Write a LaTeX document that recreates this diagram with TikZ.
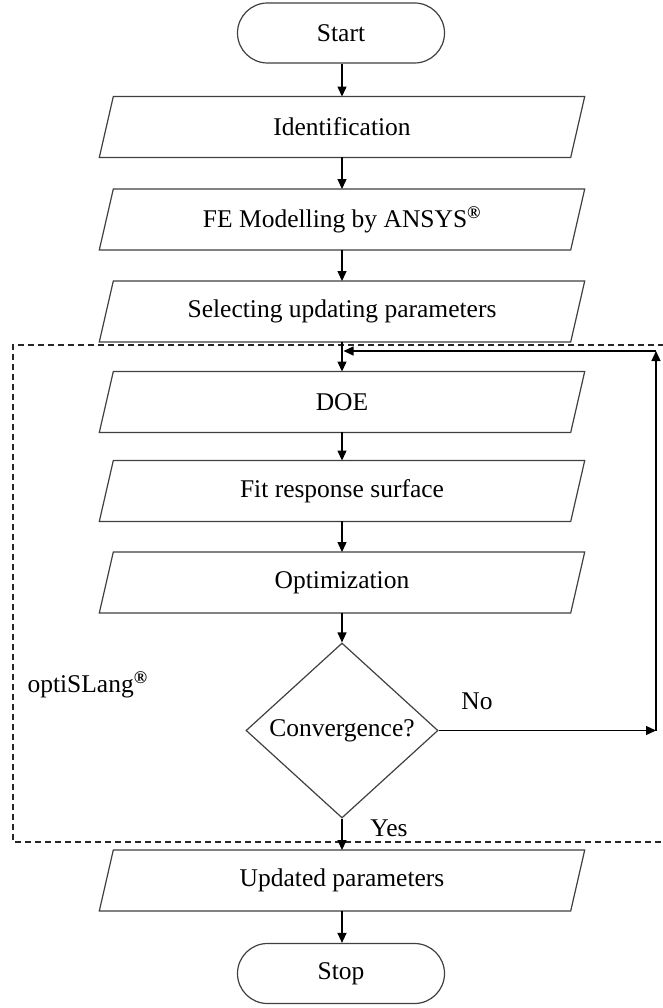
\documentclass[tikz,border=0pt]{standalone}
\usepackage{fontspec}
\setmainfont{Liberation Serif}
\usetikzlibrary{arrows.meta,shapes.geometric}
\newcommand\reg{\textsuperscript{\textbf{\textregistered}}}
\newcommand\pbox[3]{%
  \node[pb] (#1) at (342,#2) {#3};
  \draw[shapeline] ([xshift=7]#1.north west) -- ([xshift=7]#1.north east)
    -- ([xshift=-7]#1.south east) -- ([xshift=-7]#1.south west) -- cycle;}
\tikzset{
  txt/.style={font=\fontsize{25.5}{30}\selectfont, text=black},
  shapeline/.style={draw=black!75, line width=1.2pt},
  pb/.style={txt, rectangle, minimum width=471pt, minimum height=60.5pt, inner sep=0pt},
  term/.style={txt, rectangle, rounded corners=30pt, shapeline, minimum width=207pt, minimum height=60pt, inner sep=0pt},
  dec/.style={txt, diamond, shapeline, minimum width=192pt, minimum height=175pt, inner sep=0pt},
  arr/.style={draw=black, line width=1.2pt, -{Triangle[length=10pt,width=9pt]}},
  dashbox/.style={draw=black!85, line width=1.2pt, dash pattern=on 6pt off 4pt},
}
\begin{document}
\begin{tikzpicture}[x=1pt,y=-1pt]
\useasboundingbox (0,0) rectangle (663,1008);
\fill[white] (0,0) rectangle (663,1008);
% dashed region
\draw[dashbox] (664,345) -- (13,345) -- (13,842) -- (664,842);
\node[txt, anchor=west] (opti) at (24,685) {optiSLang\reg};
% nodes
\node[term] (start) at (341,33) {Start};
\pbox{ident}{127}{Identification}
\pbox{fe}{219.5}{FE Modelling by ANSYS\reg}
\pbox{sel}{311.5}{Selecting updating parameters}
\pbox{doe}{402}{DOE}
\pbox{fit}{491}{Fit response surface}
\pbox{opt}{582.5}{Optimization}
\node[dec] (conv) at (342,730.5) {Convergence?};
\pbox{upd}{880.5}{Updated parameters}
\node[term] (stop) at (341,973.5) {Stop};
% connectors
\draw[arr] (start.south -| sel.south) -- (ident.north);
\draw[arr] (ident.south) -- (fe.north);
\draw[arr] (fe.south) -- (sel.north);
\draw[arr] (sel.south) -- (doe.north);
\draw[arr] (doe.south) -- (fit.north);
\draw[arr] (fit.south) -- (opt.north);
\draw[arr] (opt.south) -- (conv.north);
\draw[arr] (conv.south) -- (upd.north);
\draw[arr] (upd.south) -- (stop.north -| upd.south);
% feedback loop
\coordinate (r1) at (656,730.5);
\coordinate (r2) at (656,351);
\coordinate (j) at (343.5,351);
\draw[arr] (conv.east) -- (r1);
\draw[arr] (r1) -- (r2);
\draw[arr] (r2) -- (j);
\node[txt] (no) at (477,701) {No};
\node[txt] (yes) at (389,828) {Yes};
\end{tikzpicture}
\end{document}
